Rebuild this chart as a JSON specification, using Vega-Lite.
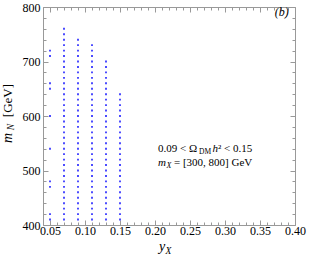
{
  "$schema": "https://vega.github.io/schema/vega-lite/v6.json",
  "width": 252,
  "height": 218,
  "autosize": {"type": "none"},
  "padding": {"left": 43, "top": 7, "right": 16, "bottom": 34},
  "background": "white",
  "config": {"view": {"stroke": null}, "font": "Liberation Serif"},
  "datasets": {
    "pts": [
      {"yx":0.05,"m":720},{"yx":0.05,"m":710},{"yx":0.05,"m":660},{"yx":0.05,"m":650},{"yx":0.05,"m":600},{"yx":0.05,"m":540},{"yx":0.05,"m":480},{"yx":0.05,"m":470},{"yx":0.05,"m":420},{"yx":0.05,"m":410},
      {"yx":0.07,"m":410},{"yx":0.07,"m":420},{"yx":0.07,"m":430},{"yx":0.07,"m":440},{"yx":0.07,"m":450},{"yx":0.07,"m":460},{"yx":0.07,"m":470},{"yx":0.07,"m":480},{"yx":0.07,"m":490},{"yx":0.07,"m":500},{"yx":0.07,"m":510},{"yx":0.07,"m":520},{"yx":0.07,"m":530},{"yx":0.07,"m":540},{"yx":0.07,"m":550},{"yx":0.07,"m":560},{"yx":0.07,"m":570},{"yx":0.07,"m":580},{"yx":0.07,"m":590},{"yx":0.07,"m":600},{"yx":0.07,"m":610},{"yx":0.07,"m":620},{"yx":0.07,"m":630},{"yx":0.07,"m":640},{"yx":0.07,"m":650},{"yx":0.07,"m":660},{"yx":0.07,"m":670},{"yx":0.07,"m":680},{"yx":0.07,"m":690},{"yx":0.07,"m":700},{"yx":0.07,"m":710},{"yx":0.07,"m":720},{"yx":0.07,"m":730},{"yx":0.07,"m":740},{"yx":0.07,"m":750},{"yx":0.07,"m":760},
      {"yx":0.09,"m":410},{"yx":0.09,"m":420},{"yx":0.09,"m":430},{"yx":0.09,"m":440},{"yx":0.09,"m":450},{"yx":0.09,"m":460},{"yx":0.09,"m":470},{"yx":0.09,"m":480},{"yx":0.09,"m":490},{"yx":0.09,"m":500},{"yx":0.09,"m":510},{"yx":0.09,"m":520},{"yx":0.09,"m":530},{"yx":0.09,"m":540},{"yx":0.09,"m":550},{"yx":0.09,"m":560},{"yx":0.09,"m":570},{"yx":0.09,"m":580},{"yx":0.09,"m":590},{"yx":0.09,"m":600},{"yx":0.09,"m":610},{"yx":0.09,"m":620},{"yx":0.09,"m":630},{"yx":0.09,"m":640},{"yx":0.09,"m":650},{"yx":0.09,"m":660},{"yx":0.09,"m":670},{"yx":0.09,"m":680},{"yx":0.09,"m":690},{"yx":0.09,"m":700},{"yx":0.09,"m":710},{"yx":0.09,"m":720},{"yx":0.09,"m":730},{"yx":0.09,"m":740},
      {"yx":0.11,"m":410},{"yx":0.11,"m":420},{"yx":0.11,"m":430},{"yx":0.11,"m":440},{"yx":0.11,"m":450},{"yx":0.11,"m":460},{"yx":0.11,"m":470},{"yx":0.11,"m":480},{"yx":0.11,"m":490},{"yx":0.11,"m":500},{"yx":0.11,"m":510},{"yx":0.11,"m":520},{"yx":0.11,"m":530},{"yx":0.11,"m":540},{"yx":0.11,"m":550},{"yx":0.11,"m":560},{"yx":0.11,"m":570},{"yx":0.11,"m":580},{"yx":0.11,"m":590},{"yx":0.11,"m":600},{"yx":0.11,"m":610},{"yx":0.11,"m":620},{"yx":0.11,"m":630},{"yx":0.11,"m":640},{"yx":0.11,"m":650},{"yx":0.11,"m":660},{"yx":0.11,"m":670},{"yx":0.11,"m":680},{"yx":0.11,"m":690},{"yx":0.11,"m":700},{"yx":0.11,"m":710},{"yx":0.11,"m":720},{"yx":0.11,"m":730},
      {"yx":0.13,"m":410},{"yx":0.13,"m":420},{"yx":0.13,"m":430},{"yx":0.13,"m":440},{"yx":0.13,"m":450},{"yx":0.13,"m":460},{"yx":0.13,"m":470},{"yx":0.13,"m":480},{"yx":0.13,"m":490},{"yx":0.13,"m":500},{"yx":0.13,"m":510},{"yx":0.13,"m":520},{"yx":0.13,"m":530},{"yx":0.13,"m":540},{"yx":0.13,"m":550},{"yx":0.13,"m":560},{"yx":0.13,"m":570},{"yx":0.13,"m":580},{"yx":0.13,"m":590},{"yx":0.13,"m":600},{"yx":0.13,"m":610},{"yx":0.13,"m":620},{"yx":0.13,"m":630},{"yx":0.13,"m":640},{"yx":0.13,"m":650},{"yx":0.13,"m":660},{"yx":0.13,"m":670},{"yx":0.13,"m":680},{"yx":0.13,"m":690},{"yx":0.13,"m":700},
      {"yx":0.15,"m":410},{"yx":0.15,"m":420},{"yx":0.15,"m":430},{"yx":0.15,"m":440},{"yx":0.15,"m":450},{"yx":0.15,"m":460},{"yx":0.15,"m":470},{"yx":0.15,"m":480},{"yx":0.15,"m":490},{"yx":0.15,"m":500},{"yx":0.15,"m":510},{"yx":0.15,"m":520},{"yx":0.15,"m":530},{"yx":0.15,"m":540},{"yx":0.15,"m":550},{"yx":0.15,"m":560},{"yx":0.15,"m":570},{"yx":0.15,"m":580},{"yx":0.15,"m":590},{"yx":0.15,"m":600},{"yx":0.15,"m":610},{"yx":0.15,"m":620},{"yx":0.15,"m":630},{"yx":0.15,"m":640}
    ],
    "ann": [
      {"k":"tag","x":0.381,"y":790,"t":"(b)"},
      {"k":"n11","x":0.2043,"y":539.4,"t":"0.09 < Ω"},
      {"k":"sub","x":0.2629,"y":534,"t":"DM"},
      {"k":"i11","x":0.2821,"y":539.4,"t":"h"},
      {"k":"n11","x":0.2900,"y":539.4,"t":"² < 0.15"},
      {"k":"i11","x":0.2043,"y":513.8,"t":"m"},
      {"k":"isub","x":0.2164,"y":508.3,"t":"X"},
      {"k":"n11","x":0.2271,"y":513.8,"t":"= [300,  800] GeV"},
      {"k":"ti","x":0.2100,"y":360,"t":"y"},
      {"k":"tsub","x":0.2193,"y":352,"t":"X"}
    ],
    "ytitle": [
      {"k":"i","x":-0.0107,"y":559.6,"t":"m"},
      {"k":"sub","x":-0.0064,"y":579.8,"t":"N"},
      {"k":"n","x":-0.0107,"y":628.4,"t":"[GeV]"}
    ]
  },
  "layer": [
    {
      "data": {"name": "pts"},
      "mark": {"type": "square", "size": 3.5, "color": "#2a2aff", "opacity": 0.9},
      "encoding": {
        "x": {"field": "yx", "type": "quantitative",
          "scale": {"domain": [0.04, 0.4], "nice": false, "zero": false},
          "axis": {"orient": "bottom", "title": null,
            "values": [0.04,0.05,0.06,0.07,0.08,0.09,0.1,0.11,0.12,0.13,0.14,0.15,0.16,0.17,0.18,0.19,0.2,0.21,0.22,0.23,0.24,0.25,0.26,0.27,0.28,0.29,0.3,0.31,0.32,0.33,0.34,0.35,0.36,0.37,0.38,0.39,0.4],
            "labelExpr": "abs(datum.value*20-round(datum.value*20))<0.001 ? format(datum.value,'.2f') : ''",
            "tickSize": {"condition": {"test": "abs(datum.value*20-round(datum.value*20))<0.001", "value": -5}, "value": -3},
            "labelPadding": 5, "domainColor": "#999999", "tickColor": "#999999",
            "labelFont": "Liberation Serif", "labelFontSize": 12, "labelColor": "black",
            "grid": false, "labelOverlap": false, "labelFlush": false, "labelBound": false}},
        "y": {"field": "m", "type": "quantitative",
          "scale": {"domain": [400, 800], "nice": false, "zero": false},
          "axis": {"orient": "left", "title": null,
            "values": [400,420,440,460,480,500,520,540,560,580,600,620,640,660,680,700,720,740,760,780,800],
            "labelExpr": "datum.value % 100 == 0 ? format(datum.value,'d') : ''",
            "tickSize": {"condition": {"test": "datum.value % 100 == 0", "value": -5}, "value": -3},
            "labelPadding": 8, "domainColor": "#999999", "tickColor": "#999999",
            "labelFont": "Liberation Serif", "labelFontSize": 12, "labelColor": "black",
            "grid": false, "labelOverlap": false, "labelFlush": false, "labelBound": false}}
      }
    },
    {
      "data": {"name": "pts"},
      "mark": {"type": "square", "size": 4, "opacity": 0},
      "encoding": {
        "x": {"field": "yx", "type": "quantitative",
          "axis": {"orient": "top", "title": null, "labels": false,
            "values": [0.04,0.05,0.06,0.07,0.08,0.09,0.1,0.11,0.12,0.13,0.14,0.15,0.16,0.17,0.18,0.19,0.2,0.21,0.22,0.23,0.24,0.25,0.26,0.27,0.28,0.29,0.3,0.31,0.32,0.33,0.34,0.35,0.36,0.37,0.38,0.39,0.4],
            "tickSize": {"condition": {"test": "abs(datum.value*20-round(datum.value*20))<0.001", "value": -5}, "value": -3},
            "domainColor": "#999999", "tickColor": "#999999", "grid": false}},
        "y": {"field": "m", "type": "quantitative",
          "axis": {"orient": "right", "title": null, "labels": false,
            "values": [400,420,440,460,480,500,520,540,560,580,600,620,640,660,680,700,720,740,760,780,800],
            "tickSize": {"condition": {"test": "datum.value % 100 == 0", "value": -5}, "value": -3},
            "domainColor": "#999999", "tickColor": "#999999", "grid": false}}
      }
    },
    {
      "data": {"name": "ann"},
      "transform": [{"filter": "datum.k == 'tag'"}],
      "mark": {"type": "text", "font": "Liberation Serif", "fontSize": 12, "fontStyle": "italic", "align": "center", "baseline": "middle", "color": "black"},
      "encoding": {"x": {"field": "x", "type": "quantitative", "axis": null}, "y": {"field": "y", "type": "quantitative", "axis": null}, "text": {"field": "t"}}
    },
    {
      "data": {"name": "ann"},
      "transform": [{"filter": "datum.k == 'n11'"}],
      "mark": {"type": "text", "font": "Liberation Serif", "fontSize": 11, "align": "left", "baseline": "middle", "color": "black"},
      "encoding": {"x": {"field": "x", "type": "quantitative", "axis": null}, "y": {"field": "y", "type": "quantitative", "axis": null}, "text": {"field": "t"}}
    },
    {
      "data": {"name": "ann"},
      "transform": [{"filter": "datum.k == 'i11'"}],
      "mark": {"type": "text", "font": "Liberation Serif", "fontSize": 11, "fontStyle": "italic", "align": "left", "baseline": "middle", "color": "black"},
      "encoding": {"x": {"field": "x", "type": "quantitative", "axis": null}, "y": {"field": "y", "type": "quantitative", "axis": null}, "text": {"field": "t"}}
    },
    {
      "data": {"name": "ann"},
      "transform": [{"filter": "datum.k == 'sub'"}],
      "mark": {"type": "text", "font": "Liberation Serif", "fontSize": 7.5, "align": "left", "baseline": "middle", "color": "black"},
      "encoding": {"x": {"field": "x", "type": "quantitative", "axis": null}, "y": {"field": "y", "type": "quantitative", "axis": null}, "text": {"field": "t"}}
    },
    {
      "data": {"name": "ann"},
      "transform": [{"filter": "datum.k == 'isub'"}],
      "mark": {"type": "text", "font": "Liberation Serif", "fontSize": 8, "fontStyle": "italic", "align": "left", "baseline": "middle", "color": "black"},
      "encoding": {"x": {"field": "x", "type": "quantitative", "axis": null}, "y": {"field": "y", "type": "quantitative", "axis": null}, "text": {"field": "t"}}
    },
    {
      "data": {"name": "ann"},
      "transform": [{"filter": "datum.k == 'ti'"}],
      "mark": {"type": "text", "font": "Liberation Serif", "fontSize": 14, "fontStyle": "italic", "align": "center", "baseline": "middle", "color": "black"},
      "encoding": {"x": {"field": "x", "type": "quantitative", "axis": null}, "y": {"field": "y", "type": "quantitative", "axis": null}, "text": {"field": "t"}}
    },
    {
      "data": {"name": "ann"},
      "transform": [{"filter": "datum.k == 'tsub'"}],
      "mark": {"type": "text", "font": "Liberation Serif", "fontSize": 9.5, "fontStyle": "italic", "align": "center", "baseline": "middle", "color": "black"},
      "encoding": {"x": {"field": "x", "type": "quantitative", "axis": null}, "y": {"field": "y", "type": "quantitative", "axis": null}, "text": {"field": "t"}}
    },
    {
      "data": {"name": "ytitle"},
      "transform": [{"filter": "datum.k == 'i'"}],
      "mark": {"type": "text", "font": "Liberation Serif", "fontSize": 14, "fontStyle": "italic", "angle": 270, "align": "center", "baseline": "middle", "color": "black"},
      "encoding": {"x": {"field": "x", "type": "quantitative", "axis": null}, "y": {"field": "y", "type": "quantitative", "axis": null}, "text": {"field": "t"}}
    },
    {
      "data": {"name": "ytitle"},
      "transform": [{"filter": "datum.k == 'sub'"}],
      "mark": {"type": "text", "font": "Liberation Serif", "fontSize": 9.5, "fontStyle": "italic", "angle": 270, "align": "center", "baseline": "middle", "color": "black"},
      "encoding": {"x": {"field": "x", "type": "quantitative", "axis": null}, "y": {"field": "y", "type": "quantitative", "axis": null}, "text": {"field": "t"}}
    },
    {
      "data": {"name": "ytitle"},
      "transform": [{"filter": "datum.k == 'n'"}],
      "mark": {"type": "text", "font": "Liberation Serif", "fontSize": 13, "angle": 270, "align": "center", "baseline": "middle", "color": "black"},
      "encoding": {"x": {"field": "x", "type": "quantitative", "axis": null}, "y": {"field": "y", "type": "quantitative", "axis": null}, "text": {"field": "t"}}
    }
  ],
  "resolve": {"scale": {"x": "shared", "y": "shared"}, "axis": {"x": "independent", "y": "independent"}}
}
